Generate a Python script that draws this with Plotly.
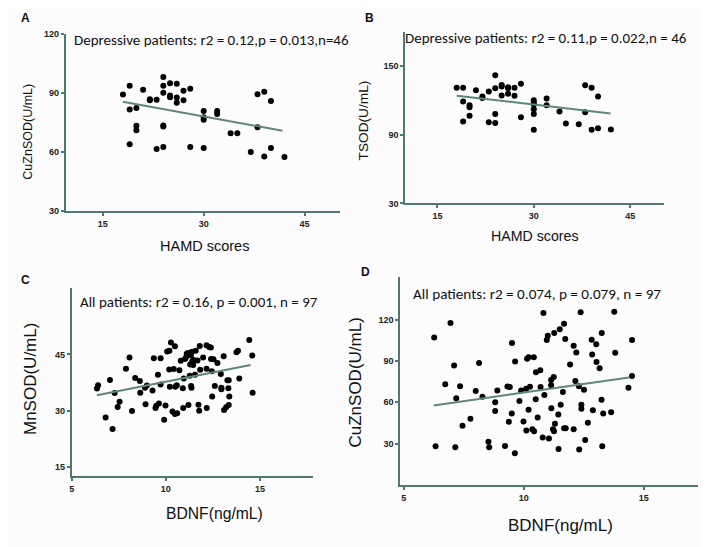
import plotly.graph_objects as go

# The page body has an 8px margin, so the figure is drawn 8px smaller
OFF = 8
W, H = 709 - OFF, 547 - OFF

# ---------------- Data ----------------
# Panel A: HAMD scores vs CuZnSOD (depressive patients)
a_x = [18, 19, 19, 19, 20, 20, 20, 21, 22, 22, 23, 23, 24, 24, 24, 24, 24, 24,
       25, 25, 25, 26, 26, 26, 27, 27, 28, 28, 30, 30, 30, 30, 32, 32, 34, 35,
       37, 38, 38, 39, 39, 40, 40, 42]
a_y = [89.2, 93.6, 81.5, 64.0, 82.3, 73.3, 71.0, 91.5, 86.8, 86.3, 86.5, 61.5,
       98.0, 93.6, 90.0, 73.5, 73.0, 62.6, 94.8, 88.6, 87.8, 94.6, 87.6, 85.0,
       91.0, 86.3, 92.1, 62.6, 80.8, 77.6, 76.3, 62.0, 80.8, 79.3, 69.5, 69.5,
       60.0, 89.3, 72.5, 90.6, 57.8, 85.8, 62.0, 57.5]
a_fit_x = [18, 41.7]
a_fit_y = [85.5, 70.8]

# Panel B: HAMD scores vs TSOD (depressive patients)
b_x = [18, 19, 19, 19, 20, 20, 20, 21, 22, 22, 23, 23, 24, 24, 24, 24, 25, 25,
       25, 26, 26, 26, 27, 27, 28, 28, 30, 30, 30, 30, 30, 30, 32, 32, 34, 35,
       37, 38, 38, 39, 39, 40, 40, 42]
b_y = [131.1, 131.1, 119.1, 101.5, 115.7, 114.0, 106.6, 128.9, 123.4, 122.0,
       127.7, 100.9, 142.0, 130.6, 108.0, 100.3, 133.4, 132.0, 124.3, 131.5,
       130.6, 125.7, 130.9, 124.0, 134.6, 105.2, 120.0, 118.0, 116.3, 112.3,
       108.0, 94.3, 121.7, 115.7, 110.3, 99.8, 99.2, 133.2, 109.7, 131.1, 94.3,
       123.4, 95.7, 94.6]
b_fit_x = [18, 41.95]
b_fit_y = [124.1, 108.6]

# Panel C: BDNF vs MnSOD (all patients)
c_x = [6.34, 6.40, 7.03, 7.28, 6.80, 7.17, 7.44, 7.54, 7.88, 8.07, 8.20, 8.37,
       8.62, 8.64, 8.89, 8.92, 8.99, 9.29, 9.36, 9.45, 9.49, 9.58, 9.63, 9.72,
       9.72, 9.91, 9.98, 10.07, 10.19, 10.18, 10.21, 10.27, 10.35, 10.42, 10.48,
       10.50, 10.48, 10.60, 10.58, 10.72, 10.79, 10.90, 10.92, 10.95, 11.02,
       11.08, 11.11, 11.17, 11.20, 11.27, 11.29, 11.33, 11.38, 11.34, 11.36,
       11.40, 11.45, 11.48, 11.55, 11.59, 11.68, 11.73, 11.77, 11.80, 11.82,
       11.98, 12.16, 12.16, 12.17, 12.30, 12.39, 12.40, 12.44, 12.46, 12.53,
       12.60, 12.74, 12.92, 12.95, 12.95, 13.09, 13.07, 13.20, 13.27, 13.34,
       13.32, 13.34, 13.37, 13.75, 13.83, 13.90, 14.43, 14.59, 14.61]
c_y = [35.9, 36.8, 38.2, 34.7, 28.2, 25.1, 31.0, 32.4, 41.2, 44.2, 29.9, 38.7,
       37.9, 34.8, 36.1, 31.7, 36.7, 35.4, 44.0, 30.7, 31.3, 39.6, 31.9, 44.0,
       37.0, 27.6, 31.4, 45.8, 46.0, 41.0, 36.4, 48.2, 29.8, 41.1, 47.2, 36.4,
       29.1, 29.3, 36.8, 40.8, 43.3, 36.0, 30.7, 38.6, 43.8, 44.3, 45.2, 45.4,
       31.5, 39.3, 42.3, 44.7, 45.7, 36.6, 36.1, 43.1, 42.2, 43.5, 39.6, 46.0,
       43.4, 31.6, 30.0, 47.3, 40.9, 44.2, 41.2, 47.5, 30.7, 47.0, 46.9, 43.8,
       40.5, 33.8, 43.7, 36.6, 42.7, 39.8, 36.1, 35.7, 30.2, 44.5, 30.9, 38.1,
       38.1, 36.0, 31.5, 33.8, 45.6, 46.0, 38.6, 48.9, 44.7, 34.8]
c_fit_x = [6.34, 14.5]
c_fit_y = [34.1, 42.2]

# Panel D: BDNF vs CuZnSOD (all patients)
d_x = [6.27, 6.95, 7.10, 6.73, 7.35, 7.19, 6.33, 7.15, 7.45, 7.78, 8.00, 8.14,
       8.28, 8.53, 8.56, 8.81, 8.81, 8.90, 9.22, 9.32, 9.42, 9.38, 9.50, 9.51,
       9.64, 9.63, 9.82, 9.89, 9.99, 10.10, 10.11, 10.14, 10.20, 10.20, 10.26,
       10.36, 10.42, 10.43, 10.50, 10.51, 10.58, 10.69, 10.70, 10.82, 10.86,
       10.79, 10.96, 11.00, 11.05, 11.14, 11.14, 11.15, 11.22, 11.25, 11.26,
       11.27, 11.30, 11.45, 11.44, 11.50, 11.54, 11.63, 11.68, 11.68, 11.75,
       11.73, 11.93, 12.08, 12.08, 12.15, 12.19, 12.30, 12.31, 12.37, 12.40,
       12.40, 12.51, 12.56, 12.67, 12.83, 12.85, 12.88, 13.02, 13.03, 13.16,
       13.25, 13.24, 13.31, 13.27, 13.64, 13.77, 13.81, 14.36, 14.51, 14.51]
d_y = [107.0, 117.4, 86.6, 73.1, 71.7, 62.9, 28.1, 27.4, 43.0, 48.0, 68.2, 88.5,
       64.1, 31.4, 27.4, 60.1, 53.7, 68.6, 28.3, 71.5, 71.0, 45.9, 51.8, 103.0,
       89.5, 23.1, 61.0, 68.6, 46.1, 69.8, 39.5, 91.6, 92.6, 54.6, 71.2, 40.4,
       92.6, 39.0, 62.2, 81.7, 49.0, 83.3, 71.0, 124.8, 65.3, 34.5, 105.1, 108.2,
       33.8, 76.2, 72.4, 55.6, 40.4, 78.3, 39.0, 110.3, 44.5, 26.2, 51.1, 112.9,
       58.2, 67.4, 117.0, 41.1, 41.1, 105.8, 87.3, 40.4, 101.0, 75.5, 96.1, 71.7,
       25.7, 125.3, 58.2, 55.4, 69.1, 32.6, 45.2, 105.4, 94.7, 54.2, 102.0, 89.2,
       84.7, 110.3, 61.8, 51.8, 28.1, 52.7, 125.7, 95.9, 70.5, 105.1, 79.0]
d_fit_x = [6.25, 14.38]
d_fit_y = [57.7, 77.9]

panel_letters = ["A", "B", "C", "D"]
stat_texts = [
    "Depressive patients: r2 = 0.12,p = 0.013,n=46",
    "Depressive patients: r2 = 0.11,p = 0.022,n = 46",
    "All patients: r2 = 0.16, p = 0.001, n = 97",
    "All patients: r2 = 0.074, p = 0.079, n = 97",
]
x_titles = ["HAMD scores", "HAMD scores", "BDNF(ng/mL)", "BDNF(ng/mL)"]
y_titles = ["CuZnSOD(U/mL)", "TSOD(U/mL)", "MnSOD(U/mL)", "CuZnSOD(U/mL)"]
x_ticks = [[15, 30, 45], [15, 30, 45], [5, 10, 15], [5, 10, 15]]
y_ticks = [[30, 60, 90, 120], [30, 90, 150], [15, 30, 45], [30, 60, 90, 120]]

# ---------------- Layout helpers ----------------
def fx(px):
    return (px - OFF) / W

def fy(py):
    return 1 - (py - OFF) / H

AXIS_COL = "#4f7a72"
FIT_COL = "#5f857c"

# pixel boxes (page coords): (left, right, top, bottom), and axis ranges
boxes = [(63, 338, 29, 210), (404, 664, 27, 202), (69, 311, 288, 480), (399, 698, 277, 489)]
x_ranges = [[9.5, 50.2], [10, 50.3], [5, 17.8], [4.86, 17.26]]
y_ranges = [[30, 120], [30, 180], [12.5, 62.8], [0, 150.8]]

fig = go.Figure()

series = [(a_x, a_y, a_fit_x, a_fit_y), (b_x, b_y, b_fit_x, b_fit_y),
          (c_x, c_y, c_fit_x, c_fit_y), (d_x, d_y, d_fit_x, d_fit_y)]

layout = dict(
    width=W, height=H, margin=dict(l=0, r=0, t=0, b=0),
    paper_bgcolor="#fcfcfc", plot_bgcolor="rgba(0,0,0,0)", showlegend=False,
)

for i, (sx, sy, fxv, fyv) in enumerate(series):
    n = "" if i == 0 else str(i + 1)
    fig.add_trace(go.Scatter(x=sx, y=sy, mode="markers", xaxis="x" + n, yaxis="y" + n,
                             marker=dict(color="black", size=6, line=dict(width=0)),
                             hoverinfo="skip"))
    fig.add_trace(go.Scatter(x=fxv, y=fyv, mode="lines", xaxis="x" + n, yaxis="y" + n,
                             line=dict(color=FIT_COL, width=2), hoverinfo="skip"))
    l, r, t, b = boxes[i]
    tickfont = dict(family="Liberation Sans Narrow, Liberation Sans, Arial", size=9,
                    color="#222", weight="bold")
    layout["xaxis" + n] = dict(domain=[fx(l), fx(r)], range=x_ranges[i], anchor="y" + n,
                               showgrid=False, zeroline=False, showline=True,
                               linecolor=AXIS_COL, linewidth=2, ticks="outside",
                               ticklen=3, tickwidth=1.5, tickcolor=AXIS_COL,
                               tickvals=x_ticks[i], tickfont=tickfont)
    layout["yaxis" + n] = dict(domain=[fy(b), fy(t)], range=y_ranges[i], anchor="x" + n,
                               showgrid=False, zeroline=False, showline=True,
                               linecolor=AXIS_COL, linewidth=2, ticks="outside",
                               ticklen=3, tickwidth=1.5, tickcolor=AXIS_COL,
                               tickvals=y_ticks[i], tickfont=tickfont)

fig.update_layout(**layout)

ann = []
letter_pos = [(23, 13), (368, 13), (23, 280), (364, 272)]
stat_pos = [(209.5, 36, 15), (545, 33, 15), (196.5, 302, 15), (536.5, 294, 15.2)]
xt_pos = [(202, 245, 14.5), (534, 235, 14.2), (212, 518, 15.7), (560, 530, 17)]
yt_pos = [(25, 129, 12.5), (362, 117, 13.7), (27, 381, 17), (353, 385, 17)]

for i in range(4):
    px, py = letter_pos[i]
    ann.append(dict(x=fx(px), y=fy(py), xref="paper", yref="paper", text=panel_letters[i],
                    showarrow=False, xanchor="center", yanchor="middle",
                    font=dict(family="Liberation Sans, Arial", size=12, color="#111", weight="bold")))
    px, py, s = stat_pos[i]
    ann.append(dict(x=fx(px), y=fy(py), xref="paper", yref="paper", text=stat_texts[i],
                    showarrow=False, xanchor="center", yanchor="middle",
                    font=dict(family="Carlito, Lato, Open Sans", size=s, color="#111")))
    px, py, s = xt_pos[i]
    ann.append(dict(x=fx(px), y=fy(py), xref="paper", yref="paper", text=x_titles[i],
                    showarrow=False, xanchor="center", yanchor="middle",
                    font=dict(family="Liberation Sans, Arial", size=s, color="#111")))
    px, py, s = yt_pos[i]
    ann.append(dict(x=fx(px), y=fy(py), xref="paper", yref="paper", text=y_titles[i],
                    showarrow=False, xanchor="center", yanchor="middle", textangle=-90,
                    font=dict(family="Liberation Sans, Arial", size=s, color="#111")))

fig.update_layout(annotations=ann)
fig.write_html("out.html")
